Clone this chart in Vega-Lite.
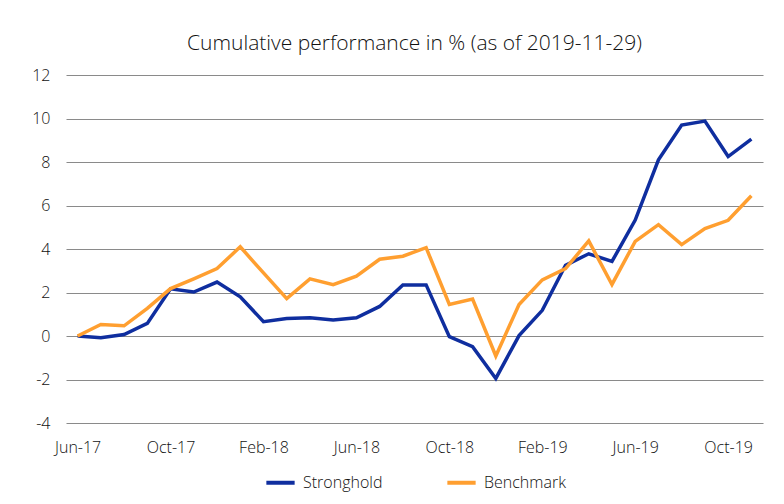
{
  "$schema": "https://vega.github.io/schema/vega-lite/v6.json",
  "width": 697,
  "height": 348,
  "autosize": {"type": "none"},
  "padding": {"left": 66, "top": 75, "right": 21, "bottom": 81},
  "background": "white",
  "title": {
    "text": "Cumulative performance in % (as of 2019-11-29)",
    "font": "Open Sans",
    "fontSize": 21,
    "fontWeight": 300,
    "color": "#111111",
    "anchor": "middle",
    "baseline": "alphabetic",
    "offset": -4
  },
  "config": {
    "view": {"stroke": null},
    "font": "Open Sans"
  },
  "data": {
    "values": [
      {"month": "Jun-17", "series": "Stronghold", "value": 0},
      {"month": "Jul-17", "series": "Stronghold", "value": -0.08},
      {"month": "Aug-17", "series": "Stronghold", "value": 0.07},
      {"month": "Sep-17", "series": "Stronghold", "value": 0.58},
      {"month": "Oct-17", "series": "Stronghold", "value": 2.17},
      {"month": "Nov-17", "series": "Stronghold", "value": 2.02},
      {"month": "Dec-17", "series": "Stronghold", "value": 2.48},
      {"month": "Jan-18", "series": "Stronghold", "value": 1.8},
      {"month": "Feb-18", "series": "Stronghold", "value": 0.66},
      {"month": "Mar-18", "series": "Stronghold", "value": 0.8},
      {"month": "Apr-18", "series": "Stronghold", "value": 0.84},
      {"month": "May-18", "series": "Stronghold", "value": 0.74},
      {"month": "Jun-18", "series": "Stronghold", "value": 0.84},
      {"month": "Jul-18", "series": "Stronghold", "value": 1.36},
      {"month": "Aug-18", "series": "Stronghold", "value": 2.35},
      {"month": "Sep-18", "series": "Stronghold", "value": 2.35},
      {"month": "Oct-18", "series": "Stronghold", "value": -0.03},
      {"month": "Nov-18", "series": "Stronghold", "value": -0.49},
      {"month": "Dec-18", "series": "Stronghold", "value": -1.95},
      {"month": "Jan-19", "series": "Stronghold", "value": 0.02},
      {"month": "Feb-19", "series": "Stronghold", "value": 1.18},
      {"month": "Mar-19", "series": "Stronghold", "value": 3.25},
      {"month": "Apr-19", "series": "Stronghold", "value": 3.78},
      {"month": "May-19", "series": "Stronghold", "value": 3.43},
      {"month": "Jun-19", "series": "Stronghold", "value": 5.33},
      {"month": "Jul-19", "series": "Stronghold", "value": 8.1},
      {"month": "Aug-19", "series": "Stronghold", "value": 9.7},
      {"month": "Sep-19", "series": "Stronghold", "value": 9.88},
      {"month": "Oct-19", "series": "Stronghold", "value": 8.25},
      {"month": "Nov-19", "series": "Stronghold", "value": 9.05},
      {"month": "Jun-17", "series": "Benchmark", "value": 0},
      {"month": "Jul-17", "series": "Benchmark", "value": 0.53},
      {"month": "Aug-17", "series": "Benchmark", "value": 0.47},
      {"month": "Sep-17", "series": "Benchmark", "value": 1.27},
      {"month": "Oct-17", "series": "Benchmark", "value": 2.18},
      {"month": "Nov-17", "series": "Benchmark", "value": 2.63},
      {"month": "Dec-17", "series": "Benchmark", "value": 3.1},
      {"month": "Jan-18", "series": "Benchmark", "value": 4.1},
      {"month": "Feb-18", "series": "Benchmark", "value": 2.9},
      {"month": "Mar-18", "series": "Benchmark", "value": 1.72},
      {"month": "Apr-18", "series": "Benchmark", "value": 2.63},
      {"month": "May-18", "series": "Benchmark", "value": 2.36},
      {"month": "Jun-18", "series": "Benchmark", "value": 2.75},
      {"month": "Jul-18", "series": "Benchmark", "value": 3.53},
      {"month": "Aug-18", "series": "Benchmark", "value": 3.67},
      {"month": "Sep-18", "series": "Benchmark", "value": 4.06},
      {"month": "Oct-18", "series": "Benchmark", "value": 1.45},
      {"month": "Nov-18", "series": "Benchmark", "value": 1.7},
      {"month": "Dec-18", "series": "Benchmark", "value": -0.92},
      {"month": "Jan-19", "series": "Benchmark", "value": 1.45},
      {"month": "Feb-19", "series": "Benchmark", "value": 2.58},
      {"month": "Mar-19", "series": "Benchmark", "value": 3.1},
      {"month": "Apr-19", "series": "Benchmark", "value": 4.37},
      {"month": "May-19", "series": "Benchmark", "value": 2.37},
      {"month": "Jun-19", "series": "Benchmark", "value": 4.35},
      {"month": "Jul-19", "series": "Benchmark", "value": 5.12},
      {"month": "Aug-19", "series": "Benchmark", "value": 4.2},
      {"month": "Sep-19", "series": "Benchmark", "value": 4.94},
      {"month": "Oct-19", "series": "Benchmark", "value": 5.32},
      {"month": "Nov-19", "series": "Benchmark", "value": 6.45}
    ]
  },
  "mark": {"type": "line", "strokeWidth": 3.5, "strokeJoin": "miter", "strokeCap": "butt"},
  "encoding": {
    "x": {
      "field": "month",
      "type": "ordinal",
      "sort": null,
      "scale": {"type": "point", "padding": 0.5},
      "axis": {
        "title": null,
        "values": ["Jun-17", "Oct-17", "Feb-18", "Jun-18", "Oct-18", "Feb-19", "Jun-19", "Oct-19"],
        "domain": false,
        "ticks": false,
        "grid": false,
        "labelAngle": 0,
        "labelFont": "Open Sans",
        "labelFontSize": 16,
        "labelFontWeight": 300,
        "labelColor": "#111111",
        "labelPadding": 16
      }
    },
    "y": {
      "field": "value",
      "type": "quantitative",
      "scale": {"domain": [-4, 12], "nice": false, "zero": false},
      "axis": {
        "title": null,
        "values": [-4, -2, 0, 2, 4, 6, 8, 10, 12],
        "labelExpr": "toString(datum.value)",
        "domain": false,
        "ticks": false,
        "grid": true,
        "gridColor": "#8a8a8a",
        "gridWidth": 1.2,
        "gridOpacity": 1,
        "labelFont": "Open Sans",
        "labelFontSize": 16,
        "labelFontWeight": 300,
        "labelColor": "#111111",
        "labelPadding": 16
      }
    },
    "color": {
      "field": "series",
      "type": "nominal",
      "scale": {"domain": ["Stronghold", "Benchmark"], "range": ["#0F2E9F", "#FF9F30"]},
      "legend": {
        "title": null,
        "orient": "none",
        "legendX": 198,
        "legendY": 391,
        "direction": "horizontal",
        "symbolType": "stroke",
        "symbolStrokeWidth": 4,
        "symbolSize": 800,
        "labelFont": "Open Sans",
        "labelFontSize": 16,
        "labelFontWeight": 300,
        "labelColor": "#111111",
        "labelOffset": 6,
        "columnPadding": 56
      }
    }
  }
}
